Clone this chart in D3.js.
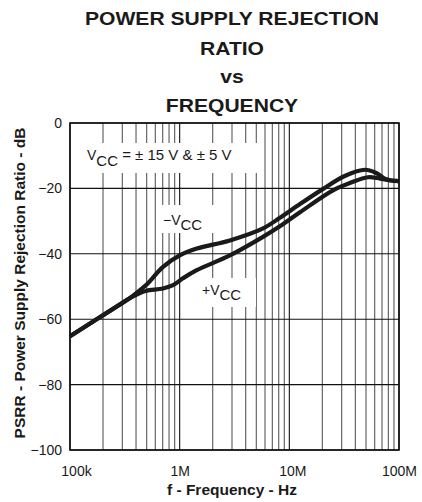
<!DOCTYPE html>
<html>
<head>
<meta charset="utf-8">
<script src="https://cdn.jsdelivr.net/npm/d3@7"></script>
<style>
  html, body { margin: 0; padding: 0; background: #fff; }
  svg { display: block; font-family: "Liberation Sans", Arial, Helvetica, sans-serif; }
</style>
</head>
<body>
<svg id="chart" width="422" height="502"></svg>
<script>
// ---- data ----
const titleLines = ["POWER SUPPLY REJECTION", "RATIO", "vs", "FREQUENCY"];
const xTickValues = [1e5, 1e6, 1e7, 1e8];
const xTickLabels = ["100k", "1M", "10M", "100M"];
const yTickValues = [0, -20, -40, -60, -80, -100];
const yTickLabels = ["0", "\u221220", "\u221240", "\u221260", "\u221280", "\u2212100"];

// -Vcc curve
const freqNeg = [1e5, 1.87e5, 3.5e5, 4.35e5, 5.0e5, 7.05e5, 1.0e6, 1.43e6, 2.87e6, 5.7e6, 8.2e6, 1.25e7, 2.0e7, 3.2e7, 4.9e7, 6.2e7, 7.6e7, 1e8];
const psrrNeg = [-65.2, -59.4, -53.6, -51.1, -49.4, -44.0, -40.5, -38.4, -35.9, -32.3, -29.0, -24.8, -20.3, -16.2, -14.3, -15.3, -17.2, -17.8];
// +Vcc curve
const freqPos = [1e5, 1.87e5, 3.5e5, 4.35e5, 5.0e5, 7.05e5, 8.7e5, 1.07e6, 1.43e6, 2.87e6, 5.7e6, 8.2e6, 1.25e7, 2.5e7, 3.6e7, 5.2e7, 6.7e7, 8.2e7, 1e8];
const psrrPos = [-65.2, -59.4, -53.6, -52.0, -51.3, -50.6, -49.6, -47.5, -45.0, -40.5, -34.9, -31.6, -27.3, -20.6, -18.3, -16.6, -17.0, -17.5, -17.8];

// ---- layout ----
const svg = d3.select("#chart");
const L = 70, R = 399, T = 123, B = 450;

const x = d3.scaleLog().domain([1e5, 1e8]).range([L, R]);
const y = d3.scaleLinear().domain([-100, 0]).range([B, T]);

// title (slightly widened like the reference lettering)
svg.append("g").attr("transform", "translate(232,0) scale(1.11,1)")
  .selectAll("text").data(titleLines).join("text")
  .attr("x", 0)
  .attr("y", (d, i) => [25, 55, 83, 112][i])
  .attr("text-anchor", "middle")
  .attr("font-weight", "bold")
  .attr("font-size", 19)
  .attr("fill", "#1a1a1a")
  .text(d => d);

// minor vertical grid
const minor = [];
for (let dec = 1e5; dec < 1e8; dec *= 10) {
  for (let m = 2; m <= 9; m++) minor.push(dec * m);
}
const grid = svg.append("g");
grid.selectAll("line.minor").data(minor).join("line")
  .attr("class", "minor")
  .attr("x1", d => x(d)).attr("x2", d => x(d))
  .attr("y1", T).attr("y2", B)
  .attr("stroke", "#666").attr("stroke-width", 1.2);
grid.selectAll("line.major").data(xTickValues).join("line")
  .attr("class", "major")
  .attr("x1", d => x(d)).attr("x2", d => x(d))
  .attr("y1", T).attr("y2", B)
  .attr("stroke", "#111").attr("stroke-width", 1.1);
grid.selectAll("line.h").data(yTickValues).join("line")
  .attr("class", "h")
  .attr("x1", L).attr("x2", R)
  .attr("y1", d => y(d)).attr("y2", d => y(d))
  .attr("stroke", "#111").attr("stroke-width", 1.1);

// label boxes (white-out grid)
function label(g, xPos, yPos, parts) {
  const t = g.append("text").attr("x", xPos).attr("y", yPos)
    .attr("font-size", 15).attr("fill", "#1a1a1a");
  parts.forEach(p => {
    t.append("tspan").attr("dy", p.dy || 0).attr("font-size", p.size || 15).text(p.t);
  });
  return t;
}
const ann = svg.append("g");
ann.append("rect").attr("x", 85).attr("y", 143).attr("width", 176).attr("height", 30).attr("fill", "#fff");
ann.append("rect").attr("x", 156).attr("y", 205).attr("width", 58).attr("height", 28).attr("fill", "#fff");
ann.append("rect").attr("x", 198).attr("y", 278).attr("width", 58).attr("height", 29).attr("fill", "#fff");

// curves
const line = d3.line().x(d => x(d[0])).y(d => y(d[1])).curve(d3.curveCatmullRom.alpha(0.5));
const curves = svg.append("g");
curves.append("path").datum(d3.zip(freqNeg, psrrNeg)).attr("d", line)
  .attr("fill", "none").attr("stroke", "#1a1a1a").attr("stroke-width", 4.2).attr("stroke-linejoin", "round");
curves.append("path").datum(d3.zip(freqPos, psrrPos)).attr("d", line)
  .attr("fill", "none").attr("stroke", "#1a1a1a").attr("stroke-width", 4.2).attr("stroke-linejoin", "round");

// annotations
label(ann, 87, 160, [{t: "V", size: 14}, {t: "CC", dy: 6, size: 15}, {t: " = \u00b1 15 V & \u00b1 5 V", dy: -6}]);
label(ann, 163, 225, [{t: "\u2212V", size: 14}, {t: "CC", dy: 5, size: 15}]);
label(ann, 202, 295, [{t: "+V", size: 14}, {t: "CC", dy: 5, size: 15}]);

// border
svg.append("rect").attr("x", L).attr("y", T).attr("width", R - L).attr("height", B - T)
  .attr("fill", "none").attr("stroke", "#111").attr("stroke-width", 1.6);

// axes
const xAxis = d3.axisBottom(x).tickValues(xTickValues).tickSize(0).tickPadding(0)
  .tickFormat((d, i) => xTickLabels[i]);
const gx = svg.append("g").attr("transform", `translate(0,${B})`).call(xAxis);
gx.select(".domain").remove();
gx.selectAll("text").attr("font-size", 14).attr("fill", "#1a1a1a")
  .attr("font-family", "Liberation Sans, Arial, sans-serif")
  .attr("dy", null).attr("y", 26)
  .attr("dx", (d, i) => i === 0 ? 6 : (i === 2 ? 3 : 0));

const yAxis = d3.axisLeft(y).tickValues(yTickValues).tickSize(0).tickPadding(8)
  .tickFormat((d, i) => yTickLabels[i]);
const gy = svg.append("g").attr("transform", `translate(${L},0)`).call(yAxis);
gy.select(".domain").remove();
gy.selectAll("text").attr("font-size", 14).attr("fill", "#1a1a1a")
  .attr("font-family", "Liberation Sans, Arial, sans-serif");

// axis titles
svg.append("text").attr("x", 232).attr("y", 495).attr("text-anchor", "middle")
  .attr("font-weight", "bold").attr("font-size", 15.5).attr("fill", "#1a1a1a")
  .text("f - Frequency - Hz");
svg.append("text").attr("transform", "translate(25,283) rotate(-90)").attr("text-anchor", "middle")
  .attr("font-weight", "bold").attr("font-size", 15.5).attr("fill", "#1a1a1a")
  .text("PSRR - Power Supply Rejection Ratio - dB");
</script>
</body>
</html>
